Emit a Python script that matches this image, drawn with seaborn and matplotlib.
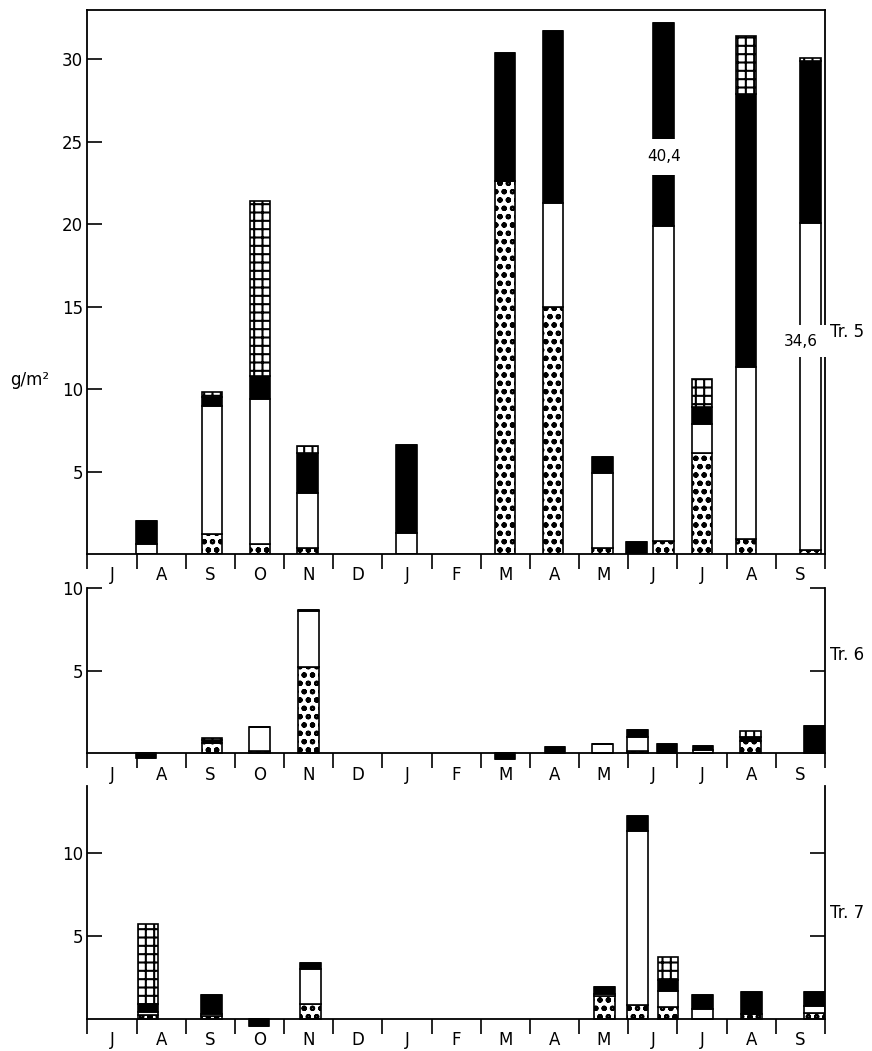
import numpy as np
import pandas as pd
import seaborn as sns
import matplotlib.pyplot as plt

sns.set_style("white")
plt.rcParams["font.family"] = ["DejaVu Sans"]
plt.rcParams["hatch.linewidth"] = 1.5
plt.rcParams["hatch.color"] = "black"
for key in ["text.color", "axes.labelcolor", "xtick.color", "ytick.color"]:
    plt.rcParams[key] = "black"

months = ["J", "A", "S", "O", "N", "D", "J", "F", "M", "A", "M", "J", "J", "A", "S"]

# sampling dates in months from start of July; biomass in g/m2 per group
# (bottom to top: dotted, white, black, grid)
tr5_pos = [1.20, 2.53, 3.51, 4.48, 6.49, 8.49, 9.47, 10.48, 11.17, 11.72, 12.50, 13.39, 14.71]
tr5_dot = [0.0, 1.2, 0.6, 0.35, 0.0, 22.6, 15.0, 0.35, 0.0, 0.8, 6.15, 0.9, 0.25]
tr5_white = [0.6, 7.8, 8.8, 3.35, 1.25, 0.0, 6.3, 4.55, 0.0, 19.1, 1.75, 10.45, 19.85]
tr5_black = [1.4, 0.5, 1.4, 2.45, 5.35, 7.8, 10.4, 1.0, 0.7, 12.3, 1.0, 16.55, 9.8]
tr5_grid = [0.0, 0.3, 10.6, 0.4, 0.0, 0.0, 0.0, 0.0, 0.0, 0.0, 1.7, 3.5, 0.2]

tr6_pos = [1.19, 2.53, 3.50, 4.49, 8.49, 9.51, 10.48, 11.19, 11.79, 12.52, 13.48, 14.79]
tr6_dot = [0.0, 0.6, 0.15, 5.25, 0.0, 0.0, 0.0, 0.15, 0.0, 0.0, 0.75, 0.0]
tr6_white = [0.0, 0.0, 1.45, 3.35, 0.0, 0.0, 0.55, 0.8, 0.0, 0.2, 0.0, 0.0]
tr6_black = [-0.3, 0.2, 0.0, 0.1, -0.36, 0.36, 0.0, 0.45, 0.55, 0.25, 0.2, 1.65]
tr6_grid = [0.0, 0.1, 0.0, 0.0, 0.0, 0.0, 0.0, 0.0, 0.0, 0.0, 0.4, 0.0]

tr7_pos = [1.23, 2.52, 3.49, 4.54, 10.52, 11.19, 11.81, 12.51, 13.50, 14.79]
tr7_dot = [0.2, 0.15, 0.0, 0.9, 1.35, 0.82, 0.72, 0.0, 0.3, 0.35]
tr7_white = [0.2, 0.15, 0.0, 2.1, 0.1, 10.46, 0.96, 0.6, 0.0, 0.4]
tr7_black = [0.45, 1.1, -0.45, 0.35, 0.45, 0.9, 0.62, 0.8, 1.3, 0.85]
tr7_grid = [4.85, 0.0, 0.0, 0.0, 0.0, 0.0, 1.38, 0.0, 0.0, 0.0]

# values beyond the drawn scale (Tr. 5)
break_pos = 11.72
break_lo, break_hi = 23.0, 25.2
break_label = "40,4"
long_bar_label = "34,6"

bar_w = 0.42
styles = [
    dict(color="white", hatch="oo"),
    dict(color="white", hatch=None),
    dict(color="black", hatch=None),
    dict(color="white", hatch="++"),
]


def draw_panel(ax, pos, segments):
    df = pd.DataFrame({"pos": pos})
    w = bar_w / np.diff(pos).min()
    bottom = np.zeros(len(pos))
    for vals, st in zip(segments, styles):
        df["val"] = vals
        sns.barplot(data=df, x="pos", y="val", native_scale=True, width=w,
                    errorbar=None, bottom=bottom.copy(), color=st["color"],
                    saturation=1, edgecolor="black", linewidth=1.2,
                    hatch=st["hatch"], ax=ax)
        bottom = bottom + np.array(vals)
    ax.set_xlabel("")
    ax.set_ylabel("")


def style_axis(ax, ylim, yticks, frame):
    ax.set_xlim(0, 15)
    ax.set_ylim(*ylim)
    for s in ax.spines.values():
        s.set_linewidth(1.3)
        s.set_color("black")
    if not frame:
        ax.spines["top"].set_visible(False)
        ax.spines["bottom"].set_position(("data", 0))
        ax.spines["left"].set_bounds(0, ylim[1])
        ax.spines["right"].set_bounds(0, ylim[1])
    ax.set_xticks(np.arange(16))
    ax.set_xticklabels([])
    ax.set_xticks(np.arange(15) + 0.5, minor=True)
    ax.set_xticklabels(months, minor=True, fontsize=12)
    ax.tick_params(axis="x", which="major", direction="out", length=11, width=1.2,
                   bottom=True, top=False)
    ax.tick_params(axis="x", which="minor", length=0, pad=9, bottom=True)
    ax.set_yticks(yticks)
    ax.set_yticklabels([str(t) for t in yticks], fontsize=12)
    ax.tick_params(axis="y", direction="in", length=11, width=1.2, pad=3,
                   left=True, right=not frame, labelright=False)


fig = plt.figure(figsize=(8.72, 10.51), dpi=100)
ax1 = fig.add_axes([0.1003, 0.4729, 0.8458, 0.5176])
ax2 = fig.add_axes([0.1003, 0.2740, 0.8458, 0.1662])
ax3 = fig.add_axes([0.1003, 0.0214, 0.8458, 0.2306])

draw_panel(ax1, tr5_pos, [tr5_dot, tr5_white, tr5_black, tr5_grid])
draw_panel(ax2, tr6_pos, [tr6_dot, tr6_white, tr6_black, tr6_grid])
draw_panel(ax3, tr7_pos, [tr7_dot, tr7_white, tr7_black, tr7_grid])

style_axis(ax1, (0, 33), [5, 10, 15, 20, 25, 30], True)
style_axis(ax2, (-0.6, 10), [5, 10], False)
style_axis(ax3, (-0.6, 14), [5, 10], False)

# broken bar marks
ax1.bar(break_pos, break_hi - break_lo, bottom=break_lo, width=bar_w * 1.3,
        color="white", linewidth=0, zorder=5)
ax1.text(break_pos, (break_lo + break_hi) / 2, break_label, ha="center",
         va="center", fontsize=11, zorder=6)
ax1.text(14.5, 12.9, long_bar_label, ha="center", va="center", fontsize=11,
         zorder=6, bbox=dict(facecolor="white", edgecolor="none", pad=6))

fig.text(0.034, 0.638, "g/m²", ha="center", va="center", fontsize=12)
fig.text(0.952, 0.684, "Tr. 5", ha="left", va="center", fontsize=12)
fig.text(0.952, 0.377, "Tr. 6", ha="left", va="center", fontsize=12)
fig.text(0.952, 0.131, "Tr. 7", ha="left", va="center", fontsize=12)

fig.savefig("out.png", dpi=100)
